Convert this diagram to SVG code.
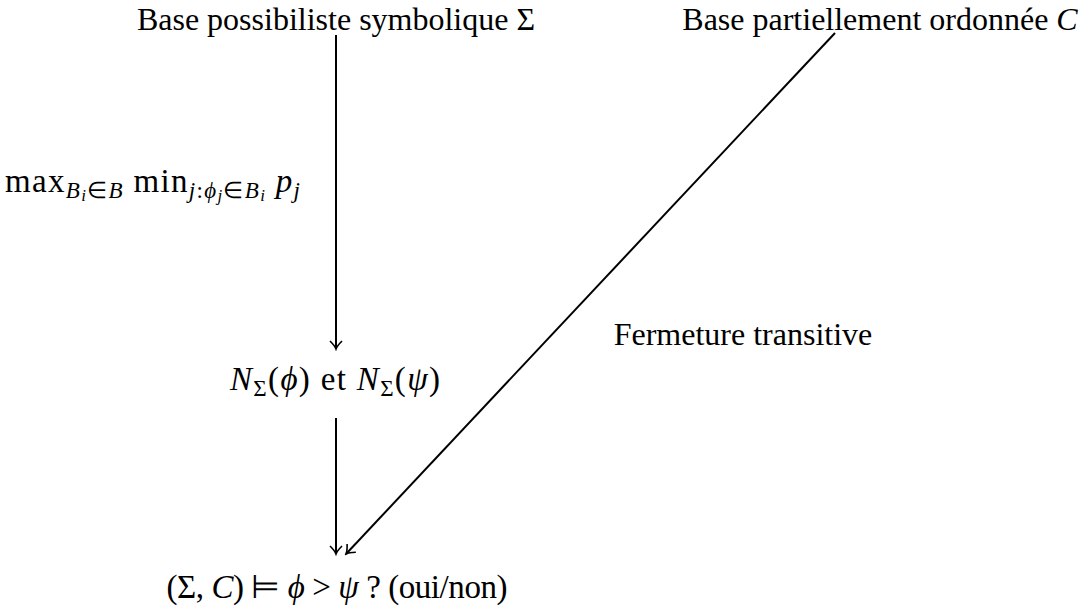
<svg xmlns="http://www.w3.org/2000/svg" width="1087" height="610" viewBox="0 0 1087 610">
<defs>
<style>
.t{font-family:"Liberation Serif","Times New Roman",serif;font-size:32px;fill:#000}
.m{font-family:"Liberation Serif","Times New Roman",serif;font-size:33px;fill:#000}
.i{font-style:italic}
.s{font-size:23px}
.ss{font-size:17px}
.e{stroke:#000;stroke-width:2;fill:none}
</style>
<marker id="ah" viewBox="-10 -8 12 16" refX="0" refY="0" markerWidth="12" markerHeight="16" markerUnits="userSpaceOnUse" orient="auto">
<path d="M-8,-6 Q-3,-1 0,0 Q-3,1 -8,6" stroke="#000" stroke-width="1.6" fill="none"/>
</marker>
</defs>
<rect width="1087" height="610" fill="#fff"/>
<g id="connectors">
<line class="e" x1="336" y1="35" x2="336" y2="349" marker-end="url(#ah)"/>
<line class="e" x1="336" y1="418" x2="336" y2="554" marker-end="url(#ah)"/>
<line class="e" x1="835" y1="33" x2="346" y2="554" marker-end="url(#ah)"/>
</g>
<g id="n-sigma"><text class="t" x="336" y="30" text-anchor="middle">Base possibiliste symbolique Σ</text></g>
<g id="n-c"><text class="t" x="880" y="30" text-anchor="middle">Base partiellement ordonnée <tspan class="i">C</tspan></text></g>
<g id="l-max"><text class="m" x="5" y="192" textLength="295" lengthAdjust="spacing">max<tspan class="s i" dy="6">B</tspan><tspan class="ss i" dy="3">i</tspan><tspan class="s" dy="-3">∈</tspan><tspan class="s i">B</tspan><tspan dy="-6"> min</tspan><tspan class="s i" dy="6">j</tspan><tspan class="s">:</tspan><tspan class="s i">ϕ</tspan><tspan class="ss i" dy="3">j</tspan><tspan class="s" dy="-3">∈</tspan><tspan class="s i">B</tspan><tspan class="ss i" dy="3">i</tspan><tspan class="i" dy="-9"> p</tspan><tspan class="s i" dy="6">j</tspan></text></g>
<g id="n-n"><text class="m" x="335" y="390" text-anchor="middle" textLength="210" lengthAdjust="spacing"><tspan class="i">N</tspan><tspan class="s" dy="6">Σ</tspan><tspan dy="-6">(</tspan><tspan class="i">ϕ</tspan>) et <tspan class="i">N</tspan><tspan class="s" dy="6">Σ</tspan><tspan dy="-6">(</tspan><tspan class="i">ψ</tspan>)</text></g>
<g id="n-res"><text class="m" x="337" y="598" text-anchor="middle" textLength="341" lengthAdjust="spacing">(Σ, <tspan class="i">C</tspan>) ⊨ <tspan class="i">ϕ</tspan> &gt; <tspan class="i">ψ</tspan> ? (oui/non)</text></g>
<g id="l-ferm"><text class="t" x="743" y="345" text-anchor="middle">Fermeture transitive</text></g>
</svg>
